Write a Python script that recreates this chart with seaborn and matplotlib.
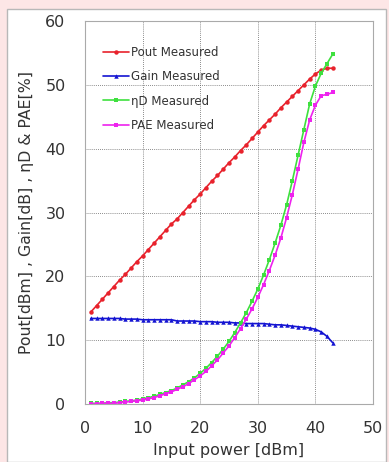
import numpy as np
import pandas as pd
import matplotlib
matplotlib.use("Agg")
import matplotlib.pyplot as plt
import seaborn as sns

# Input power sweep [dBm]
PIN = list(range(1, 44))

POUT = [14.4, 15.4, 16.4, 17.4, 18.4, 19.4, 20.3, 21.3, 22.3, 23.2,
        24.2, 25.2, 26.2, 27.2, 28.2, 29.0, 30.0, 31.0, 32.0, 32.9,
        33.9, 34.9, 35.8, 36.8, 37.8, 38.7, 39.7, 40.6, 41.6, 42.6,
        43.6, 44.5, 45.4, 46.4, 47.3, 48.2, 49.1, 50.0, 50.9, 51.7,
        52.3, 52.6, 52.6]

GAIN = [13.4, 13.4, 13.4, 13.4, 13.4, 13.4, 13.3, 13.3, 13.3, 13.2,
        13.2, 13.2, 13.2, 13.2, 13.2, 13.0, 13.0, 13.0, 13.0, 12.9,
        12.9, 12.9, 12.8, 12.8, 12.8, 12.7, 12.7, 12.6, 12.6, 12.6,
        12.6, 12.5, 12.4, 12.4, 12.3, 12.2, 12.1, 12.0, 11.9, 11.7,
        11.3, 10.6, 9.6]

ETA_D = [0.1, 0.1, 0.1, 0.2, 0.2, 0.3, 0.4, 0.5, 0.6, 0.8,
         1.0, 1.2, 1.5, 1.8, 2.1, 2.5, 3.0, 3.5, 4.1, 4.8,
         5.6, 6.5, 7.5, 8.6, 9.8, 11.2, 12.7, 14.3, 16.1, 18.0,
         20.2, 22.6, 25.2, 28.0, 31.2, 35.0, 39.0, 43.0, 47.0, 49.8,
         51.8, 53.3, 54.8]

PAE = [0.0, 0.0, 0.1, 0.1, 0.1, 0.2, 0.3, 0.4, 0.5, 0.6,
       0.8, 1.0, 1.3, 1.6, 1.9, 2.3, 2.7, 3.2, 3.8, 4.4,
       5.1, 6.0, 6.9, 8.0, 9.1, 10.4, 11.8, 13.3, 14.9, 16.7,
       18.7, 20.9, 23.3, 26.0, 29.2, 32.8, 36.8, 41.0, 44.5, 46.8,
       48.3, 48.5, 48.8]

SERIES = ["Pout Measured", "Gain Measured", "ηD Measured", "PAE Measured"]
COLORS = ["#e8222c", "#1414d2", "#3ee03e", "#ee22ee"]
MARKERS = ["o", "^", "s", "s"]

df = pd.DataFrame({"pin": PIN, SERIES[0]: POUT, SERIES[1]: GAIN,
                   SERIES[2]: ETA_D, SERIES[3]: PAE})
long_df = df.melt(id_vars="pin", var_name="series", value_name="value")

sns.set_style("white")
plt.rcParams["font.family"] = ["DejaVu Sans"]

fig = plt.figure(figsize=(3.89, 4.62), dpi=100)
fig.patch.set_facecolor("#fde6e6")

# white inner panel with grey border
panel = plt.Rectangle((7 / 389, 0), 379 / 389, 1 - 9 / 462,
                      transform=fig.transFigure, facecolor="white",
                      edgecolor="#b8b8b8", linewidth=1.0, zorder=-10)
fig.patches.append(panel)

ax = fig.add_axes([85 / 389, 1 - 404 / 462, 288 / 389, 383 / 462])
ax.set_facecolor("white")

sns.lineplot(data=long_df, x="pin", y="value", hue="series",
             hue_order=SERIES, palette=COLORS, style="series",
             style_order=SERIES, markers=MARKERS, dashes=False,
             markersize=3.2, markeredgewidth=0, linewidth=1.2, ax=ax)

ax.set_xlim(0, 50)
ax.set_ylim(0, 60)
ax.set_xticks([0, 10, 20, 30, 40, 50])
ax.set_yticks([0, 10, 20, 30, 40, 50, 60])
ax.grid(True, linestyle=(0, (1, 1.5)), color="#666666", linewidth=0.6)
ax.set_axisbelow(True)
for s in ax.spines.values():
    s.set_color("#aaaaaa")
    s.set_linewidth(0.8)

ax.tick_params(axis="both", length=0, labelsize=11.5, colors="#333333")
ax.tick_params(axis="y", pad=14)
ax.tick_params(axis="x", pad=12)

ax.set_xlabel("Input power [dBm]", fontsize=11.5, color="#333333", labelpad=5)
ax.set_ylabel("Pout[dBm] , Gain[dB] , ηD & PAE[%]", fontsize=11.3,
              color="#333333", labelpad=8)

leg = ax.legend(loc="upper left", bbox_to_anchor=(0.027, 0.962),
                frameon=False, fontsize=8.5, handlelength=2.2,
                handletextpad=0.15, labelspacing=0.95)
for t in leg.get_texts():
    t.set_color("#333333")

fig.savefig("out.png", dpi=100, facecolor=fig.get_facecolor())
